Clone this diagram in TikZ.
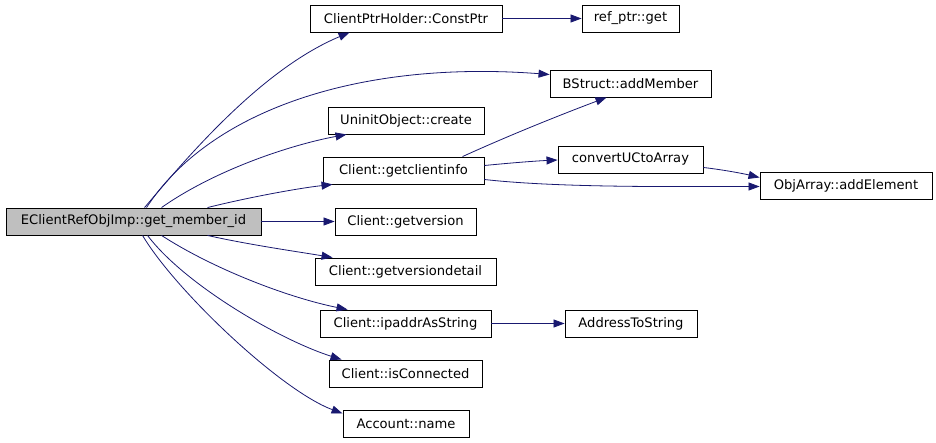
\documentclass[tikz,border=0pt]{standalone}
\usepackage{fontspec}
\setmainfont{DejaVu Sans}
\usetikzlibrary{arrows.meta,calc}
\definecolor{edgeblue}{HTML}{191970}
\tikzset{
  box/.style={draw=black, line width=0.9pt, fill=white, minimum height=27pt, inner sep=0pt,
    font=\fontsize{13.1}{15}\selectfont},
  edge/.style={draw=edgeblue, line width=0.8pt, -{Triangle[length=11pt,width=8pt]}}
}
\begin{document}
\begin{tikzpicture}[x=1pt,y=-1pt]
\useasboundingbox (0,0) rectangle (936,443);
\fill[white] (0,0) rectangle (936,443);
\node[box, fill={rgb,255:red,191;green,191;blue,191}, minimum width=255pt] (main) at (133.5,221.5) {EClientRefObjImp::get\_member\_id};
\node[box, minimum width=192pt] (cp) at (406,18.5) {ClientPtrHolder::ConstPtr};
\node[box, minimum width=97pt] (ref) at (630.5,18.5) {ref\_ptr::get};
\node[box, minimum width=161pt] (bs) at (630.5,83.5) {BStruct::addMember};
\node[box, minimum width=156pt] (un) at (406,120.5) {UninitObject::create};
\node[box, minimum width=161pt] (gci) at (403.5,170.5) {Client::getclientinfo};
\node[box, minimum width=145pt] (cu) at (630.5,159.5) {convertUCtoArray};
\node[box, minimum width=172pt] (oa) at (846,185.5) {ObjArray::addElement};
\node[box, minimum width=141pt] (gv) at (405.5,221.5) {Client::getversion};
\node[box, minimum width=181pt] (gvd) at (405.5,271.5) {Client::getversiondetail};
\node[box, minimum width=171pt] (ip) at (405.5,323.5) {Client::ipaddrAsString};
\node[box, minimum width=132pt] (as) at (631,323.5) {AddressToString};
\node[box, minimum width=153pt] (ic) at (405.5,373.5) {Client::isConnected};
\node[box, minimum width=126pt] (ac) at (406,423.5) {Account::name};

\draw[edge] ($(main.north west)+(139,0)$) .. controls (185,160) and (260,70) .. ($(cp.south west)+(40,0)$);
\draw[edge] ($(main.north west)+(141,0)$) .. controls (210,110) and (360,60) .. ($(bs.west)+(0,-9)$);
\draw[edge] ($(main.north west)+(156,0)$) .. controls (215,170) and (290,145) .. ($(un.south west)+(19,0)$);
\draw[edge] ($(main.north west)+(202,0)$) .. controls (250,197) and (300,188) .. ($(gci.south west)+(10,0)$);
\draw[edge] (main.east) -- (gv.west);
\draw[edge] ($(main.south west)+(202,0)$) .. controls (250,245) and (300,252) .. ($(gvd.north west)+(18,0)$);
\draw[edge] ($(main.south west)+(156,0)$) .. controls (215,270) and (290,298) .. ($(ip.north west)+(28,0)$);
\draw[edge] ($(main.south west)+(142,0)$) .. controls (185,285) and (280,340) .. ($(ic.north west)+(13,0)$);
\draw[edge] ($(main.south west)+(137,0)$) .. controls (175,290) and (280,390) .. ($(ac.west)+(0,-10)$);
\draw[edge] (cp.east) -- (ref.west);
\draw[edge] ($(gci.north west)+(140,0)$) .. controls (510,135) and (560,115) .. ($(bs.south west)+(57,0)$);
\draw[edge] ($(gci.east)+(0,-5)$) .. controls (510,163) and (535,161) .. ($(cu.west)+(0,0.5)$);
\draw[edge] ($(gci.east)+(0,9)$) .. controls (560,188) and (680,186.5) .. ($(oa.west)+(0,1)$);
\draw[edge] ($(cu.east)+(0,8)$) .. controls (725,170) and (745,174) .. ($(oa.west)+(0,-8)$);
\draw[edge] (ip.east) -- (as.west);
\end{tikzpicture}
\end{document}
